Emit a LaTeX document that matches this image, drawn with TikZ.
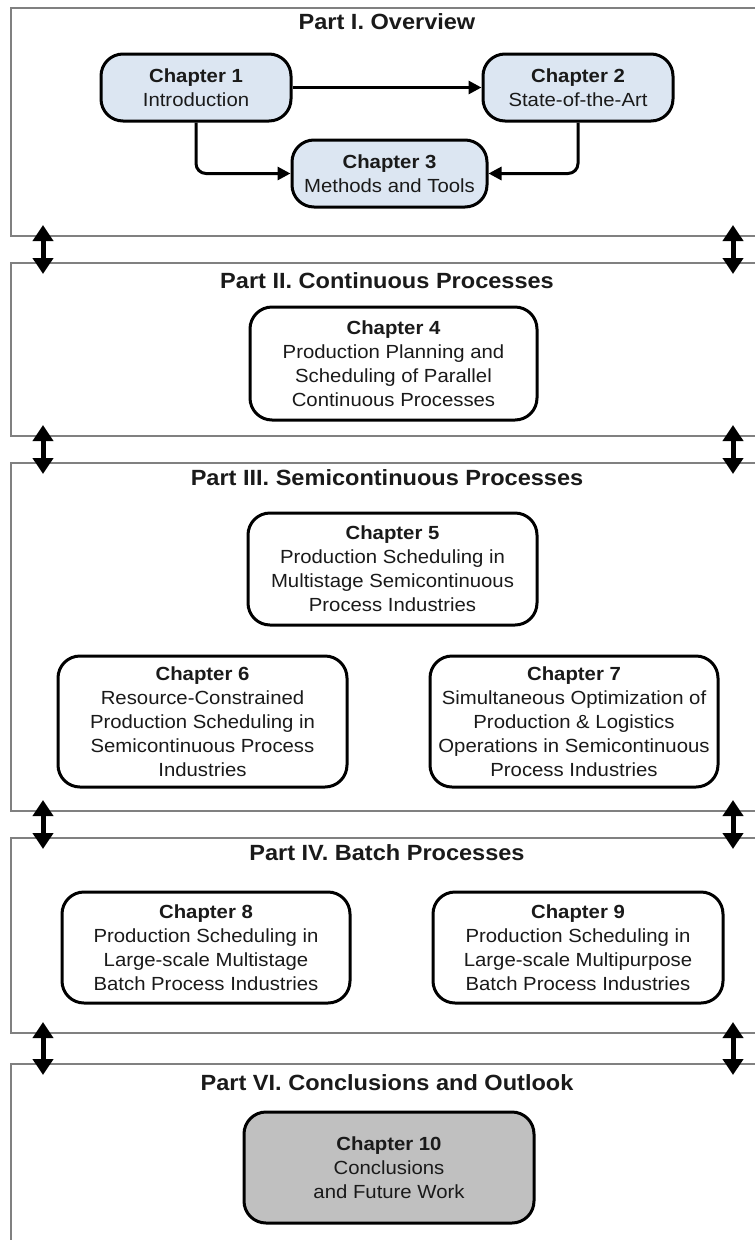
\documentclass[tikz,border=0pt]{standalone}
\usepackage{fontspec}
\setmainfont{Liberation Sans}[FakeStretch=1.07]
\usetikzlibrary{arrows.meta}

\definecolor{chapblue}{HTML}{DCE6F2}
\definecolor{chapgray}{HTML}{C0C0C0}
\definecolor{framegray}{HTML}{808080}
\definecolor{inkdark}{HTML}{1A1A1A}

\begin{document}
\begin{tikzpicture}[x=1pt,y=-1pt,
  partframe/.style={draw=framegray, line width=2pt, anchor=north west, inner sep=0pt, minimum width=760pt},
  parttitle/.style={font=\fontsize{22}{26}\selectfont\bfseries, text=inkdark},
  chapbox/.style={draw=black, line width=3pt, rounded corners=22pt, align=center, inner sep=0pt,
    font=\fontsize{19}{24}\selectfont, text=inkdark},
  conn/.style={line width=3pt, -{Triangle[length=13pt,width=13pt]}, rounded corners=10pt},
  linkarrow/.style={line width=5pt, {Triangle[length=16pt,width=20pt]}-{Triangle[length=16pt,width=20pt]}}
]
\clip (0,0) rectangle (755,1240);
\fill[white] (0,0) rectangle (755,1240);

% part frames
\node[partframe, minimum height=228pt] (p1) at (10,7) {};
\node[partframe, minimum height=173pt] (p2) at (10,262) {};
\node[partframe, minimum height=348pt] (p3) at (10,462) {};
\node[partframe, minimum height=195pt] (p4) at (10,837) {};
\node[partframe, minimum height=200pt] (p6) at (10,1063) {};

% part titles
\node[parttitle] (t1) at (387,22) {Part I. Overview};
\node[parttitle] (t2) at (387,281) {Part II. Continuous Processes};
\node[parttitle] (t3) at (387,478) {Part III. Semicontinuous Processes};
\node[parttitle] (t4) at (387,853) {Part IV. Batch Processes};
\node[parttitle] (t6) at (387,1083) {Part VI. Conclusions and Outlook};

% Part I chapters
\node[chapbox, fill=chapblue, minimum width=190pt, minimum height=67pt] (c1) at (196,87.5)
  {{\bfseries Chapter 1}\\Introduction};
\node[chapbox, fill=chapblue, minimum width=190pt, minimum height=67pt] (c2) at (578,87.5)
  {{\bfseries Chapter 2}\\State-of-the-Art};
\node[chapbox, fill=chapblue, minimum width=195pt, minimum height=67pt] (c3) at (389.5,173.5)
  {{\bfseries Chapter 3}\\Methods and Tools};

\draw[conn] (c1.east) -- (c2.west);
\draw[conn] (c1.south) |- (c3.west);
\draw[conn] (c2.south) |- (c3.east);

% Part II
\node[chapbox, minimum width=287pt, minimum height=113pt] (c4) at (393.5,363.5)
  {{\bfseries Chapter 4}\\Production Planning and\\Scheduling of Parallel\\Continuous Processes};

% Part III
\node[chapbox, minimum width=289pt, minimum height=112pt] (c5) at (392.5,569)
  {{\bfseries Chapter 5}\\Production Scheduling in\\Multistage Semicontinuous\\Process Industries};
\node[chapbox, minimum width=289pt, minimum height=131pt] (c6) at (202.5,721.5)
  {{\bfseries Chapter 6}\\Resource-Constrained\\Production Scheduling in\\Semicontinuous Process\\Industries};
\node[chapbox, minimum width=288pt, minimum height=131pt] (c7) at (574,721.5)
  {{\bfseries Chapter 7}\\Simultaneous Optimization of\\Production \& Logistics\\Operations in Semicontinuous\\Process Industries};

% Part IV
\node[chapbox, minimum width=288pt, minimum height=111pt] (c8) at (206,947.5)
  {{\bfseries Chapter 8}\\Production Scheduling in\\Large-scale Multistage\\Batch Process Industries};
\node[chapbox, minimum width=290pt, minimum height=111pt] (c9) at (578,947.5)
  {{\bfseries Chapter 9}\\Production Scheduling in\\Large-scale Multipurpose\\Batch Process Industries};

% Part VI
\node[chapbox, fill=chapgray, minimum width=290pt, minimum height=111pt] (c10) at (389,1167.5)
  {{\bfseries Chapter 10}\\Conclusions\\and Future Work};

% links between consecutive parts
\foreach \a/\b in {p1/p2, p2/p3, p3/p4, p4/p6}{
  \draw[linkarrow] ([xshift=33pt,yshift=12pt]\a.south west) -- ([xshift=33pt,yshift=-12pt]\b.north west);
  \draw[linkarrow] ([xshift=723pt,yshift=12pt]\a.south west) -- ([xshift=723pt,yshift=-12pt]\b.north west);
}
\end{tikzpicture}
\end{document}
